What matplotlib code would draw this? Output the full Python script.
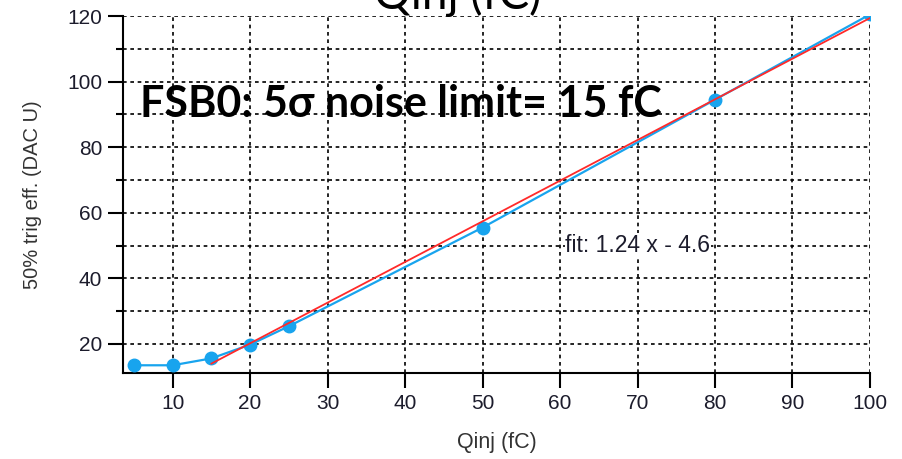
import numpy as np
import matplotlib
matplotlib.use("Agg")
import matplotlib.pyplot as plt
from matplotlib.ticker import MultipleLocator

plt.rcParams["font.family"] = ["Liberation Sans", "DejaVu Sans"]

# injected charge (fC) vs 50% trigger efficiency threshold (DAC units)
qinj = [5, 10, 15, 20, 25, 50, 80, 100]
thr = [13.5, 13.5, 15.6, 19.8, 25.4, 55.5, 94.5, 120.5]

# linear fit over the range above the noise limit
fit_slope = 1.24
fit_offset = -4.6
fit_range = [15, 100]

blue = "#18a4ee"
red = "#ff2a2a"

fig = plt.figure(figsize=(9.02, 4.59), dpi=100)
ax = fig.add_axes([0.1364, 0.1874, 0.8281, 0.7776])

ax.plot(qinj, thr, color=blue, lw=1.6, marker="o", ms=9, mec=blue, mfc=blue, zorder=3)
fx = np.array(fit_range)
ax.plot(fx, fit_slope * fx + fit_offset, color=red, lw=1.3, zorder=4)

ax.set_xlim(3.6, 100)
ax.set_ylim(11.15, 120)
ax.xaxis.set_major_locator(MultipleLocator(10))
ax.yaxis.set_major_locator(MultipleLocator(20))
ax.yaxis.set_minor_locator(MultipleLocator(10))

ax.grid(True, which="both", color="black", lw=1.2, ls=(0, (2.2, 2.2)))
ax.set_axisbelow(True)

for s in ("top", "right"):
    ax.spines[s].set_visible(False)
for s in ("left", "bottom"):
    ax.spines[s].set_linewidth(1.5)

ax.tick_params(axis="both", which="major", labelsize=15, width=1.5, length=11,
               labelcolor="#1c1c2c", pad=4)
ax.tick_params(axis="y", which="minor", width=1.5, length=5)

ax.set_xlabel("Qinj (fC)", fontsize=15.5, color="#333333", labelpad=14)
ax.set_ylabel("50% trig eff. (DAC U)", fontsize=14.5, color="#333333", labelpad=18)

ax.text(60.7, 50, "fit: 1.24 x - 4.6", fontsize=16.5, color="#1c1c2c",
        ha="left", va="center", zorder=5,
        bbox=dict(facecolor="white", edgecolor="none", pad=0.5))

fig.text(0.155, 1 - 117 / 459, "FSB0: 5\u03c3 noise limit= 15 fC", fontsize=31,
         fontweight="bold", family=["Lato", "DejaVu Sans"], color="black",
         ha="left", va="baseline")

fig.text(0.507, 1 - 9 / 459, "Qinj (fC)", fontsize=33,
         family=["Lato", "DejaVu Sans"], color="black", ha="center", va="baseline")

fig.savefig("out.png", dpi=100)
